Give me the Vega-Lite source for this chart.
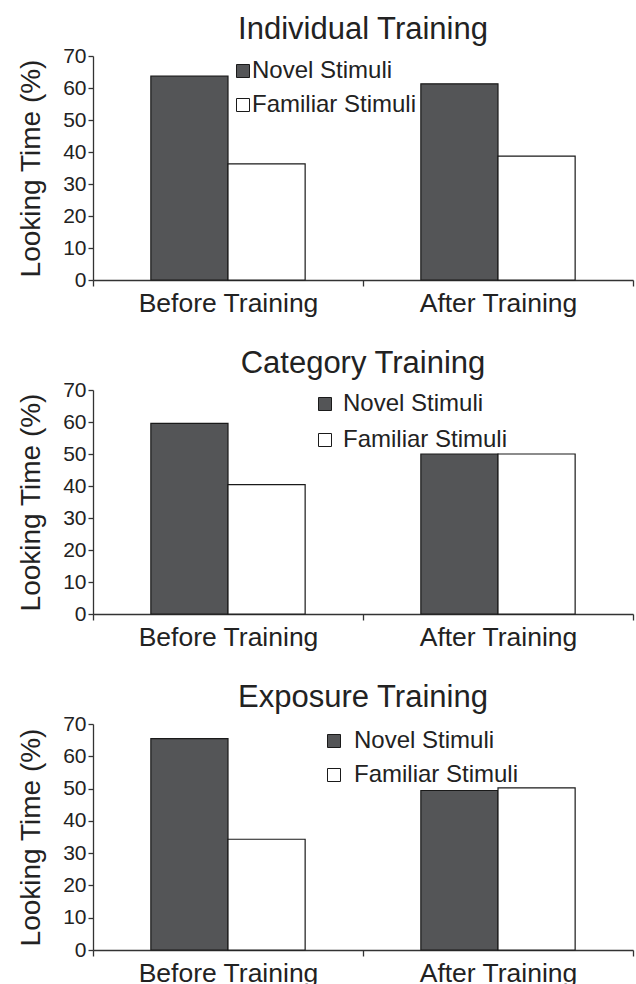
{
  "$schema": "https://vega.github.io/schema/vega-lite/v6.json",
  "padding": {"left": 17, "top": 14, "right": 2, "bottom": 0},
  "background": "white",
  "datasets": {
    "d": [
      {"panel": "Individual", "phase": "Before Training", "stimulus": "Novel Stimuli", "value": 63.7},
      {"panel": "Individual", "phase": "Before Training", "stimulus": "Familiar Stimuli", "value": 36.3},
      {"panel": "Individual", "phase": "After Training", "stimulus": "Novel Stimuli", "value": 61.3},
      {"panel": "Individual", "phase": "After Training", "stimulus": "Familiar Stimuli", "value": 38.7},
      {"panel": "Category", "phase": "Before Training", "stimulus": "Novel Stimuli", "value": 59.6},
      {"panel": "Category", "phase": "Before Training", "stimulus": "Familiar Stimuli", "value": 40.4},
      {"panel": "Category", "phase": "After Training", "stimulus": "Novel Stimuli", "value": 50.0},
      {"panel": "Category", "phase": "After Training", "stimulus": "Familiar Stimuli", "value": 50.0},
      {"panel": "Exposure", "phase": "Before Training", "stimulus": "Novel Stimuli", "value": 65.5},
      {"panel": "Exposure", "phase": "Before Training", "stimulus": "Familiar Stimuli", "value": 34.3},
      {"panel": "Exposure", "phase": "After Training", "stimulus": "Novel Stimuli", "value": 49.4},
      {"panel": "Exposure", "phase": "After Training", "stimulus": "Familiar Stimuli", "value": 50.2}
    ]
  },
  "config": {
    "font": "Liberation Sans",
    "view": {"stroke": null},
    "title": {"fontSize": 31, "fontWeight": "normal", "color": "#222222", "font": "Liberation Sans", "offset": -1},
    "axis": {
      "grid": false,
      "domainColor": "#333333",
      "domainWidth": 1.3,
      "tickColor": "#333333",
      "tickWidth": 1.3,
      "labelColor": "#222222",
      "titleColor": "#222222",
      "labelFont": "Liberation Sans",
      "titleFont": "Liberation Sans",
      "titleFontWeight": "normal",
      "labelLimit": 400
    },
    "legend": {
      "labelFont": "Liberation Sans",
      "labelFontSize": 24,
      "labelColor": "#222222",
      "labelLimit": 400,
      "symbolType": "square",
      "symbolSize": 169,
      "symbolStrokeColor": "#1a1a1a",
      "symbolStrokeWidth": 1,
      "symbolOpacity": 1,
      "rowPadding": 10,
      "padding": 0
    }
  },
  "spacing": 31,
  "resolve": {"scale": {"color": "independent"}, "legend": {"color": "independent"}},
  "vconcat": [
    {
      "title": {"text": "Individual Training"},
      "width": 540,
      "height": 224,
      "data": {"name": "d"},
      "transform": [{"filter": "datum.panel === 'Individual'"}],
      "mark": {"type": "bar", "stroke": "#1a1a1a", "strokeWidth": 1.2},
      "encoding": {
        "x": {"field": "phase", "type": "nominal", "sort": ["Before Training", "After Training"],
              "scale": {"paddingInner": 0, "paddingOuter": 0},
              "axis": {"title": null, "labelAngle": 0, "tickBand": "extent", "labelFontSize": 26.5, "labelPadding": 4, "tickSize": 6}},
        "xOffset": {"field": "stimulus", "sort": ["Novel Stimuli", "Familiar Stimuli"], "scale": {"paddingInner": 0, "paddingOuter": 0.75}},
        "y": {"field": "value", "type": "quantitative", "scale": {"domain": [0, 70]},
              "axis": {"title": "Looking Time (%)", "values": [0, 10, 20, 30, 40, 50, 60, 70], "labelFontSize": 21, "tickSize": 5, "labelPadding": 2, "titleFontSize": 28, "titlePadding": 17}},
        "color": {"field": "stimulus", "type": "nominal", "sort": ["Novel Stimuli", "Familiar Stimuli"],
                  "scale": {"domain": ["Novel Stimuli", "Familiar Stimuli"], "range": ["#545557", "#ffffff"]},
                  "legend": {"title": null, "orient": "none", "legendX": 138, "legendY": 3, "labelOffset": -3}}
      }
    },
    {
      "title": {"text": "Category Training"},
      "width": 540,
      "height": 224,
      "data": {"name": "d"},
      "transform": [{"filter": "datum.panel === 'Category'"}],
      "mark": {"type": "bar", "stroke": "#1a1a1a", "strokeWidth": 1.2},
      "encoding": {
        "x": {"field": "phase", "type": "nominal", "sort": ["Before Training", "After Training"],
              "scale": {"paddingInner": 0, "paddingOuter": 0},
              "axis": {"title": null, "labelAngle": 0, "tickBand": "extent", "labelFontSize": 26.5, "labelPadding": 4, "tickSize": 6}},
        "xOffset": {"field": "stimulus", "sort": ["Novel Stimuli", "Familiar Stimuli"], "scale": {"paddingInner": 0, "paddingOuter": 0.75}},
        "y": {"field": "value", "type": "quantitative", "scale": {"domain": [0, 70]},
              "axis": {"title": "Looking Time (%)", "values": [0, 10, 20, 30, 40, 50, 60, 70], "labelFontSize": 21, "tickSize": 5, "labelPadding": 2, "titleFontSize": 28, "titlePadding": 17}},
        "color": {"field": "stimulus", "type": "nominal", "sort": ["Novel Stimuli", "Familiar Stimuli"],
                  "scale": {"domain": ["Novel Stimuli", "Familiar Stimuli"], "range": ["#545557", "#ffffff"]},
                  "legend": {"title": null, "orient": "none", "legendX": 220, "legendY": 2, "labelOffset": 6, "rowPadding": 12}}
      }
    },
    {
      "title": {"text": "Exposure Training"},
      "width": 540,
      "height": 226,
      "data": {"name": "d"},
      "transform": [{"filter": "datum.panel === 'Exposure'"}],
      "mark": {"type": "bar", "stroke": "#1a1a1a", "strokeWidth": 1.2},
      "encoding": {
        "x": {"field": "phase", "type": "nominal", "sort": ["Before Training", "After Training"],
              "scale": {"paddingInner": 0, "paddingOuter": 0},
              "axis": {"title": null, "labelAngle": 0, "tickBand": "extent", "labelFontSize": 26.5, "labelPadding": 4, "tickSize": 6}},
        "xOffset": {"field": "stimulus", "sort": ["Novel Stimuli", "Familiar Stimuli"], "scale": {"paddingInner": 0, "paddingOuter": 0.75}},
        "y": {"field": "value", "type": "quantitative", "scale": {"domain": [0, 70]},
              "axis": {"title": "Looking Time (%)", "values": [0, 10, 20, 30, 40, 50, 60, 70], "labelFontSize": 21, "tickSize": 5, "labelPadding": 2, "titleFontSize": 28, "titlePadding": 17}},
        "color": {"field": "stimulus", "type": "nominal", "sort": ["Novel Stimuli", "Familiar Stimuli"],
                  "scale": {"domain": ["Novel Stimuli", "Familiar Stimuli"], "range": ["#545557", "#ffffff"]},
                  "legend": {"title": null, "orient": "none", "legendX": 229, "legendY": 5, "labelOffset": 8, "rowPadding": 10}}
      }
    }
  ]
}
